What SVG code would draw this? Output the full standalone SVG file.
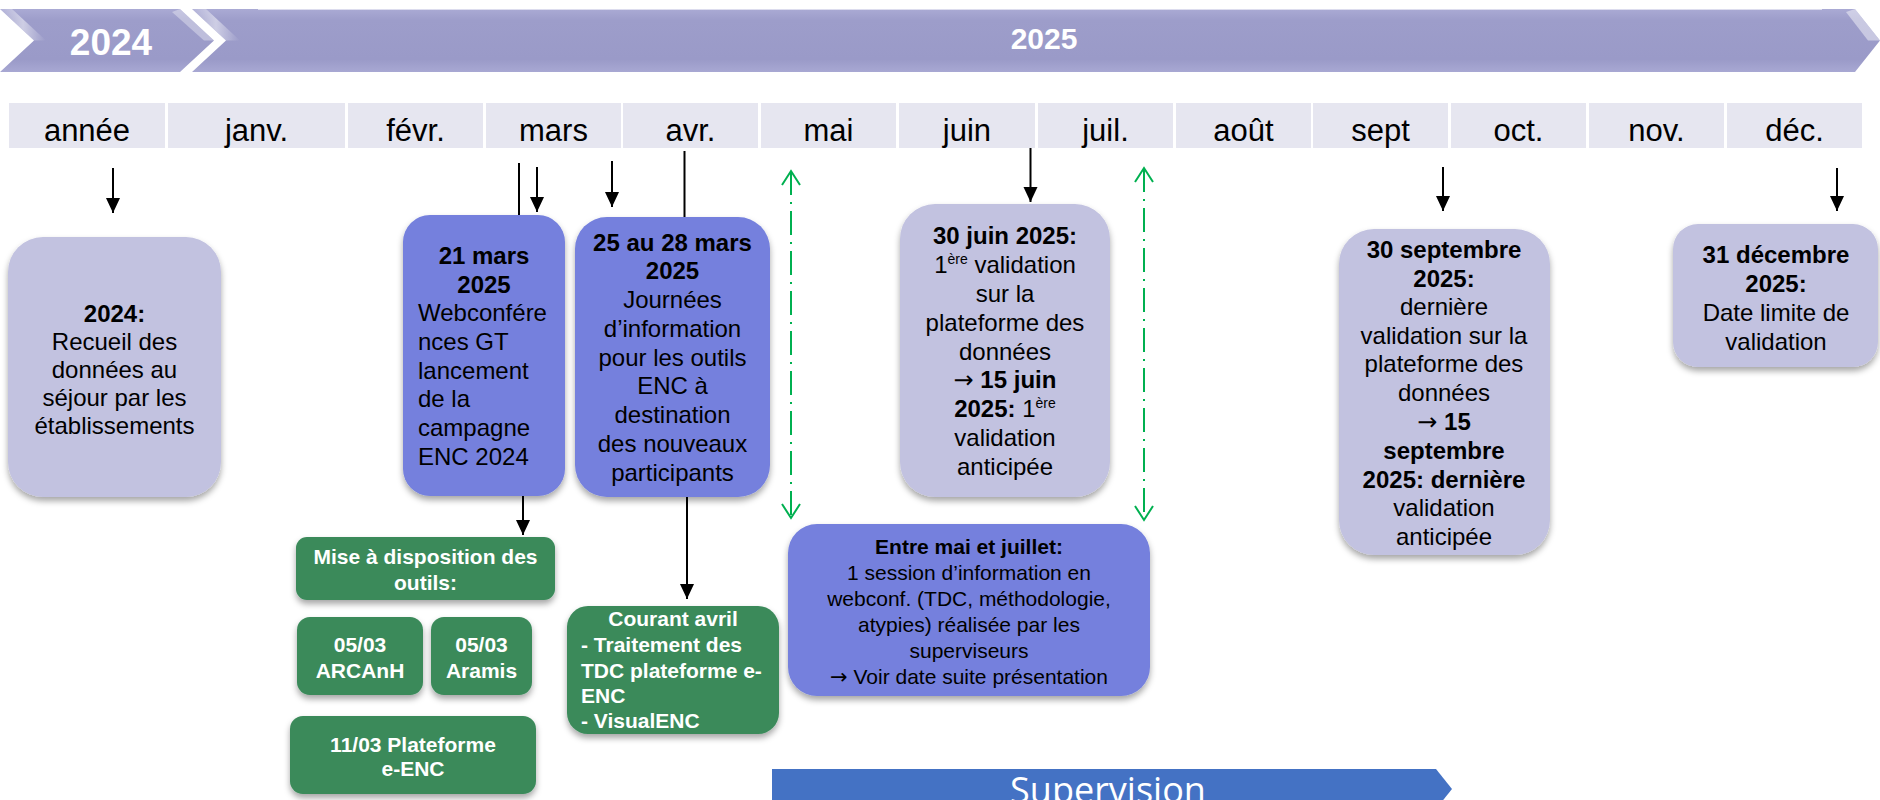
<svg xmlns="http://www.w3.org/2000/svg" width="1880" height="800" viewBox="0 0 1880 800">
<defs>
<linearGradient id="band" x1="0" y1="0" x2="0" y2="1">
<stop offset="0" stop-color="#aaaad4"/>
<stop offset="0.18" stop-color="#9d9dca"/>
<stop offset="0.8" stop-color="#9a9ac8"/>
<stop offset="1" stop-color="#a8a8d3"/>
</linearGradient>
<linearGradient id="bev" x1="0" y1="0" x2="1" y2="0">
<stop offset="0" stop-color="#ffffff" stop-opacity="0.1"/>
<stop offset="0.5" stop-color="#ffffff" stop-opacity="0.5"/>
<stop offset="1" stop-color="#ffffff" stop-opacity="0"/>
</linearGradient>
<filter id="sh" x="-20%" y="-20%" width="140%" height="140%">
<feDropShadow dx="0" dy="4" stdDeviation="3" flood-color="#000" flood-opacity="0.35"/>
</filter>
<marker id="ah" markerUnits="userSpaceOnUse" markerWidth="16" markerHeight="16" refX="15" refY="7" orient="auto">
<path d="M0,0 L15,7 L0,14 z" fill="#000"/>
</marker>
<marker id="gh" markerUnits="userSpaceOnUse" markerWidth="20" markerHeight="22" refX="15" refY="10" orient="auto-start-reverse">
<path d="M1,1 L15,10 L1,19" fill="none" stroke="#00b050" stroke-width="2"/>
</marker>
</defs>
<style>
.mon{fill:#e6e6f0}
.mt{font-family:"Liberation Sans",Arial,sans-serif;font-size:31px;fill:#000;text-anchor:middle}
.lav{fill:#c2c2e0}
.peri{fill:#7480dd}
.grn{fill:#3a8a5a}
.t{font-family:"Liberation Sans",Arial,sans-serif;font-size:24px;fill:#000;text-anchor:middle}
.tl{font-family:"Liberation Sans",Arial,sans-serif;font-size:24px;fill:#000;text-anchor:start}
.w{font-family:"Liberation Sans",Arial,sans-serif;font-size:21px;font-weight:bold;fill:#fff;text-anchor:middle}
.wl{font-family:"Liberation Sans",Arial,sans-serif;font-size:21px;font-weight:bold;fill:#fff;text-anchor:start}
.s{font-family:"Liberation Sans",Arial,sans-serif;font-size:21px;fill:#000;text-anchor:middle}
.b{font-weight:bold}
.arw{font-family:"DejaVu Sans",sans-serif;font-weight:normal}
.ar{stroke:#000;stroke-width:2;fill:none}
.ga{stroke:#00b050;stroke-width:2;fill:none;stroke-dasharray:24 7 2 7}
</style>

<g id="banner">
<polygon points="0,9 180,9 214,40.5 180,72 0,72 34,40.5" fill="url(#band)"/>
<polygon points="0,9 12,9 46,40.5 34,40.5" fill="url(#bev)"/>
<polygon points="180,9 214,40.5 204,40.5 172,12" fill="#ffffff" opacity="0.35"/>
<polygon points="192,9 1855,9 1880,40.5 1855,72 192,72 226,40.5" fill="url(#band)"/>
<polygon points="192,9 206,9 240,40.5 226,40.5" fill="url(#bev)"/>
<polygon points="1855,9 1880,40.5 1868,40.5 1846,12" fill="#ffffff" opacity="0.45"/>
<line x1="258" y1="9.5" x2="1822" y2="9.5" stroke="#ffffff" stroke-opacity="0.6" stroke-width="1"/>
<text x="111" y="55" font-family="Liberation Sans, Arial, sans-serif" font-size="37" font-weight="bold" fill="#fff" text-anchor="middle">2024</text>
<text x="1044" y="49" font-family="Liberation Sans, Arial, sans-serif" font-size="30" font-weight="bold" fill="#fff" text-anchor="middle">2025</text>
</g>

<g id="months">
<rect class="mon" x="9" y="103" width="156" height="45"/>
<rect class="mon" x="168" y="103" width="177" height="45"/>
<rect class="mon" x="348" y="103" width="135" height="45"/>
<rect class="mon" x="486" y="103" width="135" height="45"/>
<rect class="mon" x="623" y="103" width="135" height="45"/>
<rect class="mon" x="761" y="103" width="135" height="45"/>
<rect class="mon" x="899" y="103" width="136" height="45"/>
<rect class="mon" x="1038" y="103" width="135" height="45"/>
<rect class="mon" x="1176" y="103" width="135" height="45"/>
<rect class="mon" x="1313" y="103" width="135" height="45"/>
<rect class="mon" x="1451" y="103" width="135" height="45"/>
<rect class="mon" x="1589" y="103" width="135" height="45"/>
<rect class="mon" x="1727" y="103" width="135" height="45"/>
<text class="mt" x="87" y="141">année</text>
<text class="mt" x="256.5" y="141">janv.</text>
<text class="mt" x="415.5" y="141">févr.</text>
<text class="mt" x="553.5" y="141">mars</text>
<text class="mt" x="690.5" y="141">avr.</text>
<text class="mt" x="828.5" y="141">mai</text>
<text class="mt" x="967" y="141">juin</text>
<text class="mt" x="1105.5" y="141">juil.</text>
<text class="mt" x="1243.5" y="141">août</text>
<text class="mt" x="1380.5" y="141">sept</text>
<text class="mt" x="1518.5" y="141">oct.</text>
<text class="mt" x="1656.5" y="141">nov.</text>
<text class="mt" x="1794.5" y="141">déc.</text>
</g>

<g id="connectors">
<line class="ar" x1="113" y1="168" x2="113" y2="213" marker-end="url(#ah)"/>
<line class="ar" x1="519" y1="163" x2="519" y2="216"/>
<line class="ar" x1="537" y1="167" x2="537" y2="212" marker-end="url(#ah)"/>
<line class="ar" x1="612" y1="161" x2="612" y2="207" marker-end="url(#ah)"/>
<line class="ar" x1="684.5" y1="151" x2="684.5" y2="218"/>
<line class="ar" x1="1030.5" y1="148" x2="1030.5" y2="202" marker-end="url(#ah)"/>
<line class="ar" x1="1443" y1="167" x2="1443" y2="211" marker-end="url(#ah)"/>
<line class="ar" x1="1837" y1="168" x2="1837" y2="211" marker-end="url(#ah)"/>
<line class="ar" x1="523" y1="496" x2="523" y2="535" marker-end="url(#ah)"/>
<line class="ar" x1="687" y1="496" x2="687" y2="599" marker-end="url(#ah)"/>
<line class="ga" x1="791" y1="171" x2="791" y2="518" marker-start="url(#gh)" marker-end="url(#gh)"/>
<line class="ga" x1="1144" y1="168" x2="1144" y2="520" marker-start="url(#gh)" marker-end="url(#gh)"/>
</g>

<g id="n2024">
<rect class="lav" x="8" y="237" width="213" height="260" rx="35" filter="url(#sh)"/>
<text class="t" x="114.5" y="322"><tspan class="b">2024:</tspan></text>
<text class="t" x="114.5" y="350">Recueil des</text>
<text class="t" x="114.5" y="378">données au</text>
<text class="t" x="114.5" y="406">séjour par les</text>
<text class="t" x="114.5" y="434">établissements</text>
</g>

<g id="n21mars">
<rect class="peri" x="403" y="215" width="162" height="281" rx="27" filter="url(#sh)"/>
<text class="t b" x="484" y="264">21 mars</text>
<text class="t b" x="484" y="293">2025</text>
<text class="tl" x="418" y="321">Webconfére</text>
<text class="tl" x="418" y="350">nces GT</text>
<text class="tl" x="418" y="379">lancement</text>
<text class="tl" x="418" y="407">de la</text>
<text class="tl" x="418" y="436">campagne</text>
<text class="tl" x="418" y="465">ENC 2024</text>
</g>

<g id="n25mars">
<rect class="peri" x="575" y="217" width="195" height="280" rx="32" filter="url(#sh)"/>
<text class="t b" x="672.5" y="251">25 au 28 mars</text>
<text class="t b" x="672.5" y="279">2025</text>
<text class="t" x="672.5" y="308">Journées</text>
<text class="t" x="672.5" y="337">d’information</text>
<text class="t" x="672.5" y="366">pour les outils</text>
<text class="t" x="672.5" y="394">ENC à</text>
<text class="t" x="672.5" y="423">destination</text>
<text class="t" x="672.5" y="452">des nouveaux</text>
<text class="t" x="672.5" y="481">participants</text>
</g>

<g id="n30juin">
<rect class="lav" x="900" y="204" width="210" height="293" rx="35" filter="url(#sh)"/>
<text class="t b" x="1005" y="244">30 juin 2025:</text>
<text class="t" x="1005" y="273">1<tspan font-size="14" dy="-9">ère</tspan><tspan dy="9"> validation</tspan></text>
<text class="t" x="1005" y="302">sur la</text>
<text class="t" x="1005" y="331">plateforme des</text>
<text class="t" x="1005" y="360">données</text>
<text class="t b" x="1005" y="388"><tspan class="arw">→</tspan> 15 juin</text>
<text class="t" x="1005" y="417"><tspan class="b">2025:</tspan> 1<tspan font-size="14" dy="-9">ère</tspan></text>
<text class="t" x="1005" y="446">validation</text>
<text class="t" x="1005" y="475">anticipée</text>
</g>

<g id="n30sept">
<rect class="lav" x="1339" y="229" width="211" height="326" rx="35" filter="url(#sh)"/>
<text class="t b" x="1444" y="258">30 septembre</text>
<text class="t b" x="1444" y="287">2025:</text>
<text class="t" x="1444" y="315">dernière</text>
<text class="t" x="1444" y="344">validation sur la</text>
<text class="t" x="1444" y="372">plateforme des</text>
<text class="t" x="1444" y="401">données</text>
<text class="t b" x="1444" y="430"><tspan class="arw">→</tspan> 15</text>
<text class="t b" x="1444" y="459">septembre</text>
<text class="t b" x="1444" y="488">2025: dernière</text>
<text class="t" x="1444" y="516">validation</text>
<text class="t" x="1444" y="545">anticipée</text>
</g>

<g id="n31dec">
<rect class="lav" x="1673" y="224" width="205" height="143" rx="25" filter="url(#sh)"/>
<text class="t b" x="1776" y="263">31 décembre</text>
<text class="t b" x="1776" y="292">2025:</text>
<text class="t" x="1776" y="321">Date limite de</text>
<text class="t" x="1776" y="350">validation</text>
</g>

<g id="nMise">
<rect class="grn" x="296" y="537" width="259" height="63" rx="11" filter="url(#sh)"/>
<text class="w" x="425.5" y="564">Mise à disposition des</text>
<text class="w" x="425.5" y="590">outils:</text>
</g>

<g id="nArcanh">
<rect class="grn" x="297" y="617" width="126" height="78" rx="13" filter="url(#sh)"/>
<text class="w" x="360" y="651.5">05/03</text>
<text class="w" x="360" y="677.5">ARCAnH</text>
</g>

<g id="nAramis">
<rect class="grn" x="431" y="617" width="101" height="78" rx="13" filter="url(#sh)"/>
<text class="w" x="481.5" y="651.5">05/03</text>
<text class="w" x="481.5" y="677.5">Aramis</text>
</g>

<g id="nPlateforme">
<rect class="grn" x="290" y="716" width="246" height="78" rx="13" filter="url(#sh)"/>
<text class="w" x="413" y="751.5">11/03 Plateforme</text>
<text class="w" x="413" y="775.5">e-ENC</text>
</g>

<g id="nCourant">
<rect class="grn" x="567" y="606" width="212" height="128" rx="21" filter="url(#sh)"/>
<text class="w" x="673" y="625.5">Courant avril</text>
<text class="wl" x="581" y="652">- Traitement des</text>
<text class="wl" x="581" y="677.5">TDC plateforme e-</text>
<text class="wl" x="581" y="702.5">ENC</text>
<text class="wl" x="581" y="728">- VisualENC</text>
</g>

<g id="nEntre">
<rect class="peri" x="788" y="524" width="362" height="172" rx="29" filter="url(#sh)"/>
<text class="s b" x="969" y="554">Entre mai et juillet:</text>
<text class="s" x="969" y="580">1 session d’information en</text>
<text class="s" x="969" y="606">webconf. (TDC, méthodologie,</text>
<text class="s" x="969" y="632">atypies) réalisée par les</text>
<text class="s" x="969" y="658">superviseurs</text>
<text class="s" x="969" y="684"><tspan class="arw">→</tspan> Voir date suite présentation</text>
</g>

<g id="nSupervision">
<polygon points="772,769 1436,769 1452,789 1436,809 772,809" fill="#4472c4"/>
<text x="1108" y="803" font-family="Open Sans, Liberation Sans, sans-serif" font-size="36" fill="#fff" text-anchor="middle">Supervision</text>
</g>
</svg>
